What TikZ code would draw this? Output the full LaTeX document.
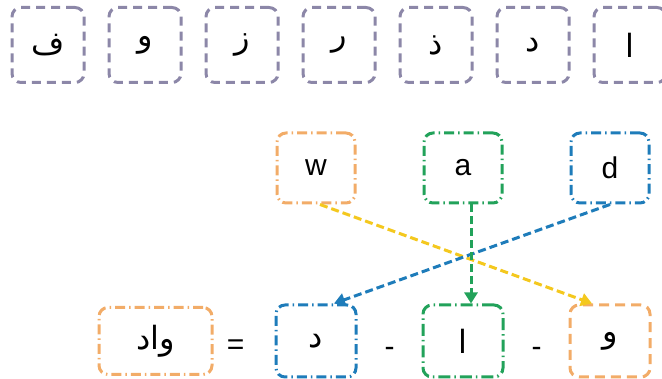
\documentclass[tikz,border=0pt]{standalone}
\usepackage{fontspec}
\setmainfont{Liberation Sans}
\newfontfamily\arabicfont[Script=Arabic]{DejaVu Sans}
\TeXXeTstate=1
\usepackage{tikz}
\usetikzlibrary{positioning, calc, arrows.meta}
\definecolor{abjadgray}{RGB}{140,135,168}
\definecolor{keyorange}{RGB}{242,172,104}
\definecolor{keygreen}{RGB}{34,162,90}
\definecolor{keyblue}{RGB}{30,124,186}
\definecolor{linkyellow}{RGB}{244,200,30}
\tikzset{abjad/.style={draw=abjadgray, line width=3pt, dash pattern=on 9pt off 6pt, rounded corners=9pt, minimum width=72pt, minimum height=75pt, font=\arabicfont\fontsize{32}{36}\selectfont}}
\tikzset{latin/.style={line width=3pt, rounded corners=9pt, minimum width=78pt, minimum height=70pt, font=\fontsize{30}{34}\selectfont}}
\tikzset{result/.style={line width=3pt, rounded corners=9pt, minimum width=80pt, minimum height=72pt, font=\arabicfont\fontsize{32}{36}\selectfont}}
\tikzset{dashdot/.style={dash pattern=on 10pt off 4pt on 1.5pt off 4pt}}
\tikzset{link/.style={line width=3pt, dash pattern=on 8pt off 4pt, -{Triangle[length=11pt,width=13pt]}}}

\begin{document}
\begin{tikzpicture}[x=1pt, y=1pt]
      \useasboundingbox (0,0) rectangle (662,379);

      % alphabet row
      \node[abjad] (fa) at (48,334) {\beginR ف\endR};
      \node[abjad, right=22pt of fa] (waw) {\beginR و\endR};
      \node[abjad, right=22pt of waw] (zay) {\beginR ز\endR};
      \node[abjad, right=22pt of zay] (ra) {\beginR ر\endR};
      \node[abjad, right=22pt of ra] (dhal) {\beginR ذ\endR};
      \node[abjad, right=22pt of dhal] (dal) {\beginR د\endR};
      \node[abjad, right=22pt of dal] (alif) {\beginR ا\endR};

      % latin keys
      \node[latin, draw=keyorange, dashdot] (w) at (316,211) {w};
      \node[latin, draw=keygreen, dashdot, right=66pt of w] (a) {a};
      \node[latin, draw=keyblue, dashdot, right=66pt of a] (d) {d};

      % result row
      \node[result, draw=keyblue, dashdot, below=99pt of w] (rdal) {\beginR د\endR};
      \node[result, draw=keygreen, dash pattern=on 12pt off 4pt on 1.5pt off 4pt, below=99pt of a] (ralif) {\beginR ا\endR};
      \node[result, draw=keyorange, dash pattern=on 10pt off 6pt, below=99pt of d] (rwaw) {\beginR و\endR};
      \node[result, draw=keyorange, dashdot, minimum width=113pt, minimum height=67pt, left=61pt of rdal] (word) {\beginR واد\endR};

      \node[font=\fontsize{30}{34}\selectfont, yshift=-6pt] (eq) at ($(word)!0.5!(rdal)$) {=};
      \node[font=\fontsize{30}{34}\selectfont, yshift=-11pt] (sep1) at ($(rdal)!0.5!(ralif)$) {-};
      \node[font=\fontsize{30}{34}\selectfont, yshift=-11pt] (sep2) at ($(ralif)!0.5!(rwaw)$) {-};

      % mapping
      \draw[link, linkyellow] ([xshift=4pt]w.south) -- ([xshift=-18pt]rwaw.north);
      \draw[link, keyblue] (d.south) -- ([xshift=18pt]rdal.north);
      \draw[link, keygreen] ([xshift=8pt]a.south) -- ([xshift=8pt]ralif.north);

    \end{tikzpicture}
\end{document}
